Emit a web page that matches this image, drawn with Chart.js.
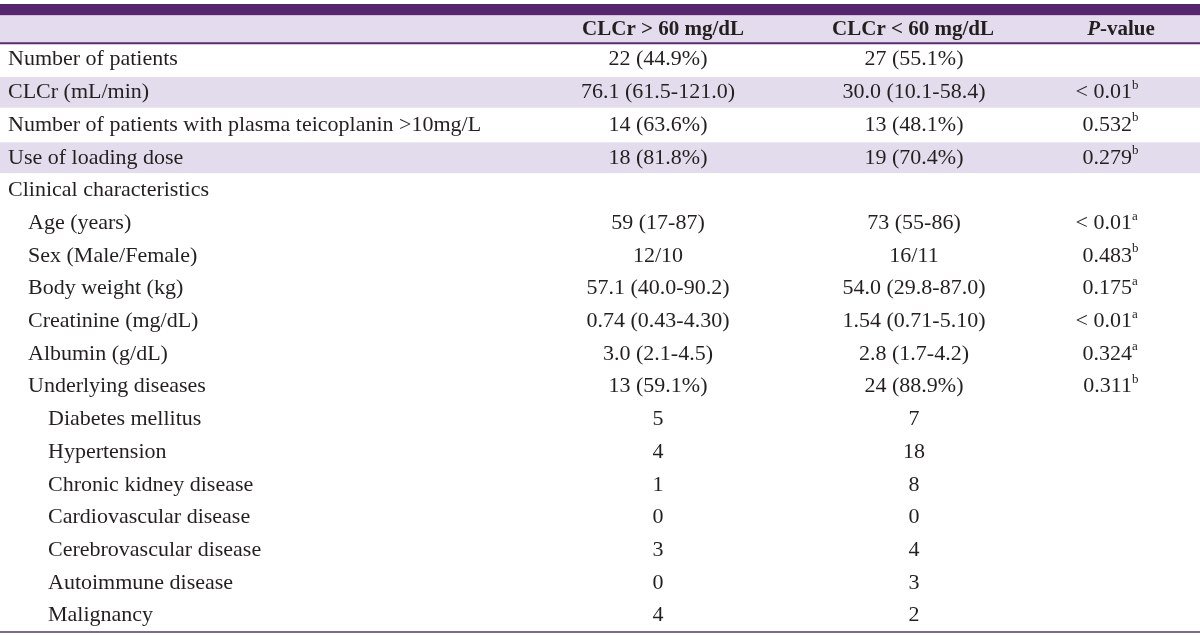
<!DOCTYPE html>
<html>
<head>
<meta charset="utf-8">
<script src="https://cdn.jsdelivr.net/npm/chart.js@4.4.0/dist/chart.umd.min.js"></script>
<style>
  html, body { margin: 0; padding: 0; background: #fff; }
  canvas { display: block; }
</style>
</head>
<body>
<canvas id="tbl" width="1200" height="635"></canvas>
<script>
// table contents
const headers = ["", "CLCr > 60 mg/dL", "CLCr < 60 mg/dL", "P-value"];
const rowLabels = [
  "Number of patients",
  "CLCr (mL/min)",
  "Number of patients with plasma teicoplanin >10mg/L",
  "Use of loading dose",
  "Clinical characteristics",
  "Age (years)",
  "Sex (Male/Female)",
  "Body weight (kg)",
  "Creatinine (mg/dL)",
  "Albumin (g/dL)",
  "Underlying diseases",
  "Diabetes mellitus",
  "Hypertension",
  "Chronic kidney disease",
  "Cardiovascular disease",
  "Cerebrovascular disease",
  "Autoimmune disease",
  "Malignancy"
];
const indentLevel = [0, 0, 0, 0, 0, 1, 1, 1, 1, 1, 1, 2, 2, 2, 2, 2, 2, 2];
const above60 = ["22 (44.9%)", "76.1 (61.5-121.0)", "14 (63.6%)", "18 (81.8%)", "",
  "59 (17-87)", "12/10", "57.1 (40.0-90.2)", "0.74 (0.43-4.30)", "3.0 (2.1-4.5)", "13 (59.1%)",
  "5", "4", "1", "0", "3", "0", "4"];
const below60 = ["27 (55.1%)", "30.0 (10.1-58.4)", "13 (48.1%)", "19 (70.4%)", "",
  "73 (55-86)", "16/11", "54.0 (29.8-87.0)", "1.54 (0.71-5.10)", "2.8 (1.7-4.2)", "24 (88.9%)",
  "7", "18", "8", "0", "4", "3", "2"];
const pValues = ["", "< 0.01", "0.532", "0.279", "",
  "< 0.01", "0.483", "0.175", "< 0.01", "0.324", "0.311",
  "", "", "", "", "", "", ""];
const pNotes = ["", "b", "b", "b", "",
  "a", "b", "a", "a", "a", "b",
  "", "", "", "", "", "", ""];
const shadedRows = [1, 3];

const FONT = '"Liberation Serif", "DejaVu Serif", serif';
const INK = "#231f20";

const tablePlugin = {
  id: "tablePlugin",
  beforeDraw(chart) {
    const { ctx, scales: { x, y } } = chart;
    const left = x.getPixelForValue(0), right = x.getPixelForValue(1200);
    const w = right - left;
    ctx.save();
    ctx.fillStyle = "#fff";
    ctx.fillRect(0, 0, chart.width, chart.height);

    // top bar + header band
    ctx.fillStyle = "#57246f";
    ctx.fillRect(left, y.getPixelForValue(-1.2), w, y.getPixelForValue(-0.85) - y.getPixelForValue(-1.2));
    ctx.fillStyle = "#e3dcec";
    ctx.fillRect(left, y.getPixelForValue(-0.85), w, y.getPixelForValue(0) - y.getPixelForValue(-0.85));

    // shaded rows
    shadedRows.forEach(r => {
      const t = y.getPixelForValue(r), b = y.getPixelForValue(r + 1);
      ctx.fillRect(left, t + 1, w, b - t - 2);
    });

    // rules
    ctx.fillStyle = "#5b2c74";
    ctx.fillRect(left, y.getPixelForValue(0) - 1, w, 2);
    ctx.fillStyle = "#7c6a90";
    ctx.fillRect(left, y.getPixelForValue(18) - 1, w, 2);

    // header texts
    const hy = y.getPixelForValue(-0.42);
    ctx.fillStyle = INK;
    ctx.textBaseline = "middle";
    ctx.textAlign = "center";
    ctx.font = "bold 21px " + FONT;
    ctx.fillText(headers[1], x.getPixelForValue(663), hy);
    ctx.fillText(headers[2], x.getPixelForValue(913), hy);
    // P-value: italic P
    const pPart = headers[3].slice(0, 1), rest = headers[3].slice(1);
    ctx.font = "bold italic 21px " + FONT;
    const pw = ctx.measureText(pPart).width;
    ctx.font = "bold 21px " + FONT;
    const rw = ctx.measureText(rest).width;
    const px0 = x.getPixelForValue(1121) - (pw + rw) / 2;
    ctx.textAlign = "left";
    ctx.font = "bold italic 21px " + FONT;
    ctx.fillText(pPart, px0, hy);
    ctx.font = "bold 21px " + FONT;
    ctx.fillText(rest, px0 + pw, hy);

    // body rows
    rowLabels.forEach((label, i) => {
      const cy = y.getPixelForValue(i + 0.5);
      ctx.font = "22px " + FONT;
      ctx.textAlign = "left";
      ctx.fillText(label, x.getPixelForValue(8 + indentLevel[i] * 20), cy);
      ctx.textAlign = "center";
      if (above60[i]) ctx.fillText(above60[i], x.getPixelForValue(658), cy);
      if (below60[i]) ctx.fillText(below60[i], x.getPixelForValue(914), cy);
      if (pValues[i]) {
        ctx.textAlign = "right";
        const rx = x.getPixelForValue(1132);
        ctx.fillText(pValues[i], rx, cy);
        ctx.font = "13px " + FONT;
        ctx.textAlign = "left";
        ctx.fillText(pNotes[i], rx, cy - 7);
      }
    });
    ctx.restore();
  }
};

new Chart(document.getElementById("tbl"), {
  type: "scatter",
  data: { datasets: [{ data: [], pointRadius: 0 }] },
  options: {
    responsive: false,
    animation: false,
    layout: { padding: { top: 4, bottom: 3, left: 0, right: 0 } },
    plugins: { legend: { display: false }, tooltip: { enabled: false } },
    scales: {
      x: { type: "linear", min: 0, max: 1200, display: false },
      y: { type: "linear", min: -1.2, max: 18, reverse: true, display: false }
    }
  },
  plugins: [tablePlugin]
});
</script>
</body>
</html>
